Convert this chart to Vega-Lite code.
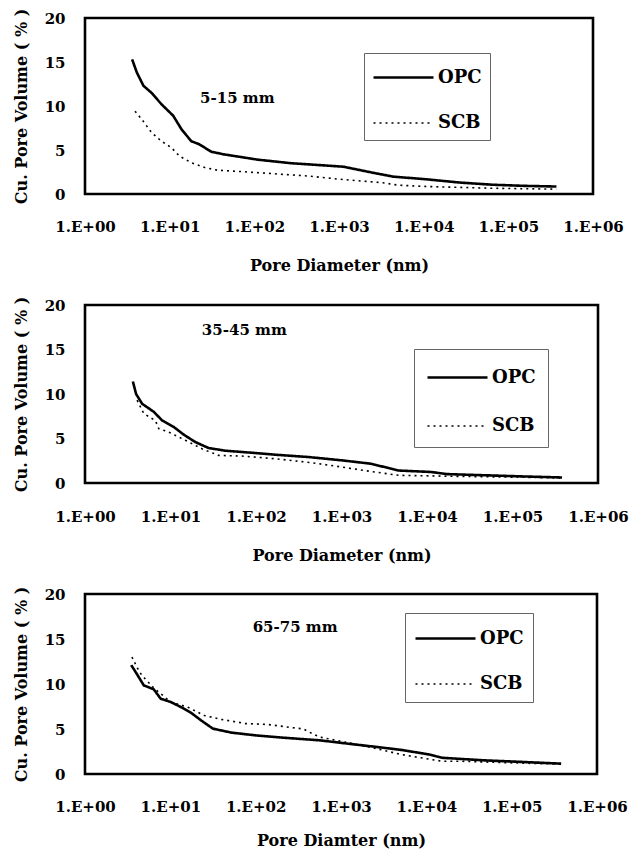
{
  "$schema": "https://vega.github.io/schema/vega-lite/v6.json",
  "padding": {"left": 11, "top": 6, "right": 3, "bottom": 5},
  "background": "white",
  "datasets": {
    "p1": [
      {"d": 3.6, "v": 15.3, "series": "OPC"}, {"d": 4.1, "v": 13.8, "series": "OPC"}, {"d": 4.9, "v": 12.3, "series": "OPC"},
      {"d": 6.1, "v": 11.5, "series": "OPC"}, {"d": 8.0, "v": 10.2, "series": "OPC"}, {"d": 11, "v": 8.9, "series": "OPC"},
      {"d": 13.8, "v": 7.35, "series": "OPC"}, {"d": 18, "v": 6.0, "series": "OPC"}, {"d": 22.4, "v": 5.65, "series": "OPC"},
      {"d": 31, "v": 4.8, "series": "OPC"}, {"d": 44, "v": 4.5, "series": "OPC"}, {"d": 110, "v": 3.9, "series": "OPC"},
      {"d": 270, "v": 3.5, "series": "OPC"}, {"d": 665, "v": 3.25, "series": "OPC"}, {"d": 1130, "v": 3.1, "series": "OPC"},
      {"d": 2570, "v": 2.4, "series": "OPC"}, {"d": 4400, "v": 1.97, "series": "OPC"}, {"d": 10800, "v": 1.67, "series": "OPC"},
      {"d": 26700, "v": 1.3, "series": "OPC"}, {"d": 66000, "v": 1.05, "series": "OPC"}, {"d": 162000, "v": 0.92, "series": "OPC"},
      {"d": 370000, "v": 0.85, "series": "OPC"},
      {"d": 3.9, "v": 9.4, "series": "SCB"}, {"d": 4.67, "v": 8.5, "series": "SCB"}, {"d": 6.1, "v": 7.0, "series": "SCB"},
      {"d": 8.0, "v": 6.0, "series": "SCB"}, {"d": 10.5, "v": 5.26, "series": "SCB"}, {"d": 13.1, "v": 4.3, "series": "SCB"},
      {"d": 18, "v": 3.56, "series": "SCB"}, {"d": 26, "v": 3.0, "series": "SCB"}, {"d": 37, "v": 2.7, "series": "SCB"},
      {"d": 70, "v": 2.55, "series": "SCB"}, {"d": 171, "v": 2.3, "series": "SCB"}, {"d": 423, "v": 2.05, "series": "SCB"},
      {"d": 1040, "v": 1.67, "series": "SCB"}, {"d": 3300, "v": 1.28, "series": "SCB"}, {"d": 5000, "v": 1.0, "series": "SCB"},
      {"d": 10800, "v": 0.85, "series": "SCB"}, {"d": 66000, "v": 0.65, "series": "SCB"}, {"d": 370000, "v": 0.55, "series": "SCB"}
    ],
    "p2": [
      {"d": 3.63, "v": 11.4, "series": "OPC"}, {"d": 3.96, "v": 10.0, "series": "OPC"}, {"d": 4.66, "v": 8.9, "series": "OPC"},
      {"d": 6.37, "v": 8.0, "series": "OPC"}, {"d": 7.96, "v": 7.04, "series": "OPC"}, {"d": 10.9, "v": 6.3, "series": "OPC"},
      {"d": 14.3, "v": 5.43, "series": "OPC"}, {"d": 19.5, "v": 4.6, "series": "OPC"}, {"d": 27.9, "v": 3.93, "series": "OPC"},
      {"d": 43.6, "v": 3.63, "series": "OPC"}, {"d": 89, "v": 3.4, "series": "OPC"}, {"d": 167, "v": 3.18, "series": "OPC"},
      {"d": 408, "v": 2.92, "series": "OPC"}, {"d": 1000, "v": 2.55, "series": "OPC"}, {"d": 2190, "v": 2.17, "series": "OPC"},
      {"d": 4680, "v": 1.4, "series": "OPC"}, {"d": 11100, "v": 1.24, "series": "OPC"}, {"d": 17200, "v": 1.0, "series": "OPC"},
      {"d": 120000, "v": 0.75, "series": "OPC"}, {"d": 380000, "v": 0.62, "series": "OPC"},
      {"d": 4.07, "v": 9.3, "series": "SCB"}, {"d": 4.87, "v": 7.8, "series": "SCB"}, {"d": 6.67, "v": 7.0, "series": "SCB"},
      {"d": 7.3, "v": 6.1, "series": "SCB"}, {"d": 9.5, "v": 5.73, "series": "SCB"}, {"d": 14.9, "v": 4.8, "series": "SCB"},
      {"d": 23.3, "v": 3.85, "series": "SCB"}, {"d": 36.5, "v": 3.1, "series": "SCB"}, {"d": 68, "v": 3.03, "series": "SCB"},
      {"d": 167, "v": 2.73, "series": "SCB"}, {"d": 446, "v": 2.28, "series": "SCB"}, {"d": 1000, "v": 1.8, "series": "SCB"},
      {"d": 2190, "v": 1.3, "series": "SCB"}, {"d": 4680, "v": 0.86, "series": "SCB"}, {"d": 11100, "v": 0.8, "series": "SCB"},
      {"d": 20000, "v": 0.75, "series": "SCB"}, {"d": 120000, "v": 0.65, "series": "SCB"}, {"d": 380000, "v": 0.55, "series": "SCB"}
    ],
    "p3": [
      {"d": 3.48, "v": 12.1, "series": "OPC"}, {"d": 4.06, "v": 11.1, "series": "OPC"}, {"d": 4.88, "v": 9.85, "series": "OPC"},
      {"d": 6.4, "v": 9.4, "series": "OPC"}, {"d": 7.7, "v": 8.37, "series": "OPC"}, {"d": 10.1, "v": 8.0, "series": "OPC"},
      {"d": 13.3, "v": 7.44, "series": "OPC"}, {"d": 17.5, "v": 6.8, "series": "OPC"}, {"d": 22.9, "v": 5.96, "series": "OPC"},
      {"d": 31.5, "v": 5.04, "series": "OPC"}, {"d": 52, "v": 4.6, "series": "OPC"}, {"d": 98, "v": 4.3, "series": "OPC"},
      {"d": 200, "v": 4.05, "series": "OPC"}, {"d": 566, "v": 3.74, "series": "OPC"}, {"d": 1210, "v": 3.37, "series": "OPC"},
      {"d": 2650, "v": 3.0, "series": "OPC"}, {"d": 5150, "v": 2.67, "series": "OPC"}, {"d": 11100, "v": 2.15, "series": "OPC"},
      {"d": 15400, "v": 1.8, "series": "OPC"}, {"d": 47000, "v": 1.52, "series": "OPC"}, {"d": 141000, "v": 1.33, "series": "OPC"},
      {"d": 380000, "v": 1.15, "series": "OPC"},
      {"d": 3.55, "v": 13.0, "series": "SCB"}, {"d": 4.1, "v": 11.8, "series": "SCB"}, {"d": 4.6, "v": 11.0, "series": "SCB"},
      {"d": 6.4, "v": 9.55, "series": "SCB"}, {"d": 10.1, "v": 8.0, "series": "SCB"}, {"d": 15.9, "v": 7.44, "series": "SCB"},
      {"d": 25, "v": 6.5, "series": "SCB"}, {"d": 39.6, "v": 6.07, "series": "SCB"}, {"d": 77, "v": 5.6, "series": "SCB"},
      {"d": 140, "v": 5.5, "series": "SCB"}, {"d": 245, "v": 5.2, "series": "SCB"}, {"d": 363, "v": 5.0, "series": "SCB"},
      {"d": 420, "v": 4.67, "series": "SCB"}, {"d": 566, "v": 4.1, "series": "SCB"}, {"d": 1210, "v": 3.48, "series": "SCB"},
      {"d": 2650, "v": 2.8, "series": "SCB"}, {"d": 5150, "v": 2.15, "series": "SCB"}, {"d": 10000, "v": 1.7, "series": "SCB"},
      {"d": 15400, "v": 1.41, "series": "SCB"}, {"d": 26500, "v": 1.41, "series": "SCB"}, {"d": 141000, "v": 1.2, "series": "SCB"},
      {"d": 380000, "v": 1.1, "series": "SCB"}
    ],
    "one": [{"k": 1}]
  },
  "vconcat": [
    {
      "width": 508, "height": 176,
      "layer": [
        {
          "data": {"name": "p1"},
          "mark": {"type": "line", "color": "black"},
          "encoding": {
            "x": {"field": "d", "type": "quantitative", "scale": {"type": "log", "domain": [1, 1000000], "nice": false},
                  "axis": {"title": "Pore Diameter (nm)", "values": [1, 10, 100, 1000, 10000, 100000, 1000000], "labelExpr": "'1.E+0' + round(log(datum.value) / LN10)", "labelPadding": 25, "titlePadding": 23}},
            "y": {"field": "v", "type": "quantitative", "scale": {"domain": [0, 20], "nice": false},
                  "axis": {"title": "Cu. Pore Volume ( % )", "values": [0, 5, 10, 15, 20]}},
            "strokeDash": {"field": "series", "type": "nominal", "scale": {"domain": ["OPC", "SCB"], "range": [[1, 0], [2, 4]]},
                  "legend": {"orient": "none", "legendX": 279, "legendY": 35, "padding": 8, "rowPadding": 20}},
            "strokeWidth": {"field": "series", "type": "nominal", "scale": {"domain": ["OPC", "SCB"], "range": [2.6, 1.6]},
                  "legend": {"orient": "none", "legendX": 279, "legendY": 35, "padding": 8, "rowPadding": 20}}
          }
        },
        {
          "data": {"name": "one"},
          "mark": {"type": "text", "font": "DejaVu Serif", "fontWeight": "bold", "fontSize": 15, "color": "black"},
          "encoding": {
            "x": {"datum": 63, "type": "quantitative", "scale": {"type": "log", "domain": [1, 1000000], "nice": false},
                  "axis": {"title": "Pore Diameter (nm)", "values": [1, 10, 100, 1000, 10000, 100000, 1000000], "labelExpr": "'1.E+0' + round(log(datum.value) / LN10)", "labelPadding": 25, "titlePadding": 23}},
            "y": {"datum": 10.9, "type": "quantitative", "scale": {"domain": [0, 20], "nice": false},
                  "axis": {"title": "Cu. Pore Volume ( % )", "values": [0, 5, 10, 15, 20]}},
            "text": {"value": "5-15 mm"}
          }
        }
      ]
    },
    {
      "width": 513, "height": 178,
      "layer": [
        {
          "data": {"name": "p2"},
          "mark": {"type": "line", "color": "black"},
          "encoding": {
            "x": {"field": "d", "type": "quantitative", "scale": {"type": "log", "domain": [1, 1000000], "nice": false},
                  "axis": {"title": "Pore Diameter (nm)", "values": [1, 10, 100, 1000, 10000, 100000, 1000000], "labelExpr": "'1.E+0' + round(log(datum.value) / LN10)", "labelPadding": 26, "titlePadding": 23}},
            "y": {"field": "v", "type": "quantitative", "scale": {"domain": [0, 20], "nice": false},
                  "axis": {"title": "Cu. Pore Volume ( % )", "values": [0, 5, 10, 15, 20]}},
            "strokeDash": {"field": "series", "type": "nominal", "scale": {"domain": ["OPC", "SCB"], "range": [[1, 0], [2, 4]]},
                  "legend": {"orient": "none", "legendX": 329, "legendY": 44, "padding": 12, "rowPadding": 23}},
            "strokeWidth": {"field": "series", "type": "nominal", "scale": {"domain": ["OPC", "SCB"], "range": [2.6, 1.6]},
                  "legend": {"orient": "none", "legendX": 329, "legendY": 44, "padding": 12, "rowPadding": 23}}
          }
        },
        {
          "data": {"name": "one"},
          "mark": {"type": "text", "font": "DejaVu Serif", "fontWeight": "bold", "fontSize": 15, "color": "black"},
          "encoding": {
            "x": {"datum": 73, "type": "quantitative", "scale": {"type": "log", "domain": [1, 1000000], "nice": false},
                  "axis": {"title": "Pore Diameter (nm)", "values": [1, 10, 100, 1000, 10000, 100000, 1000000], "labelExpr": "'1.E+0' + round(log(datum.value) / LN10)", "labelPadding": 26, "titlePadding": 23}},
            "y": {"datum": 17.2, "type": "quantitative", "scale": {"domain": [0, 20], "nice": false},
                  "axis": {"title": "Cu. Pore Volume ( % )", "values": [0, 5, 10, 15, 20]}},
            "text": {"value": "35-45 mm"}
          }
        }
      ]
    },
    {
      "width": 512, "height": 180,
      "layer": [
        {
          "data": {"name": "p3"},
          "mark": {"type": "line", "color": "black"},
          "encoding": {
            "x": {"field": "d", "type": "quantitative", "scale": {"type": "log", "domain": [1, 1000000], "nice": false},
                  "axis": {"title": "Pore Diamter (nm)", "values": [1, 10, 100, 1000, 10000, 100000, 1000000], "labelExpr": "'1.E+0' + round(log(datum.value) / LN10)", "labelPadding": 25, "titlePadding": 18}},
            "y": {"field": "v", "type": "quantitative", "scale": {"domain": [0, 20], "nice": false},
                  "axis": {"title": "Cu. Pore Volume ( % )", "values": [0, 5, 10, 15, 20]}},
            "strokeDash": {"field": "series", "type": "nominal", "scale": {"domain": ["OPC", "SCB"], "range": [[1, 0], [2, 4]]},
                  "legend": {"orient": "none", "legendX": 320, "legendY": 19, "padding": 9, "rowPadding": 20}},
            "strokeWidth": {"field": "series", "type": "nominal", "scale": {"domain": ["OPC", "SCB"], "range": [2.6, 1.6]},
                  "legend": {"orient": "none", "legendX": 320, "legendY": 19, "padding": 9, "rowPadding": 20}}
          }
        },
        {
          "data": {"name": "one"},
          "mark": {"type": "text", "font": "DejaVu Serif", "fontWeight": "bold", "fontSize": 15, "color": "black"},
          "encoding": {
            "x": {"datum": 290, "type": "quantitative", "scale": {"type": "log", "domain": [1, 1000000], "nice": false},
                  "axis": {"title": "Pore Diamter (nm)", "values": [1, 10, 100, 1000, 10000, 100000, 1000000], "labelExpr": "'1.E+0' + round(log(datum.value) / LN10)", "labelPadding": 25, "titlePadding": 18}},
            "y": {"datum": 16.3, "type": "quantitative", "scale": {"domain": [0, 20], "nice": false},
                  "axis": {"title": "Cu. Pore Volume ( % )", "values": [0, 5, 10, 15, 20]}},
            "text": {"value": "65-75 mm"}
          }
        }
      ]
    }
  ],
  "spacing": 19,
  "resolve": {
    "scale": {"strokeDash": "independent", "strokeWidth": "independent", "x": "independent", "y": "independent"},
    "legend": {"strokeDash": "independent", "strokeWidth": "independent"}
  },
  "config": {
    "font": "DejaVu Serif",
    "view": {"stroke": "black", "strokeWidth": 2.6},
    "axis": {
      "grid": false, "domain": false, "ticks": false,
      "labelFont": "DejaVu Serif", "labelFontSize": 15, "labelFontWeight": "bold", "labelColor": "black",
      "titleFont": "DejaVu Serif", "titleFontSize": 16, "titleFontWeight": "bold", "titleColor": "black",
      "labelFlush": false, "labelOverlap": false, "labelBound": false
    },
    "axisY": {"labelPadding": 20, "titlePadding": 15},
    "legend": {
      "title": null,
      "symbolType": "M-1,0H3",
      "symbolSize": 900,
      "symbolStrokeColor": "black",
      "labelOffset": 33,
      "labelFont": "DejaVu Serif", "labelFontSize": 18, "labelFontWeight": "bold", "labelColor": "black",
      "strokeColor": "#666666",
      "fillColor": "white"
    }
  }
}
